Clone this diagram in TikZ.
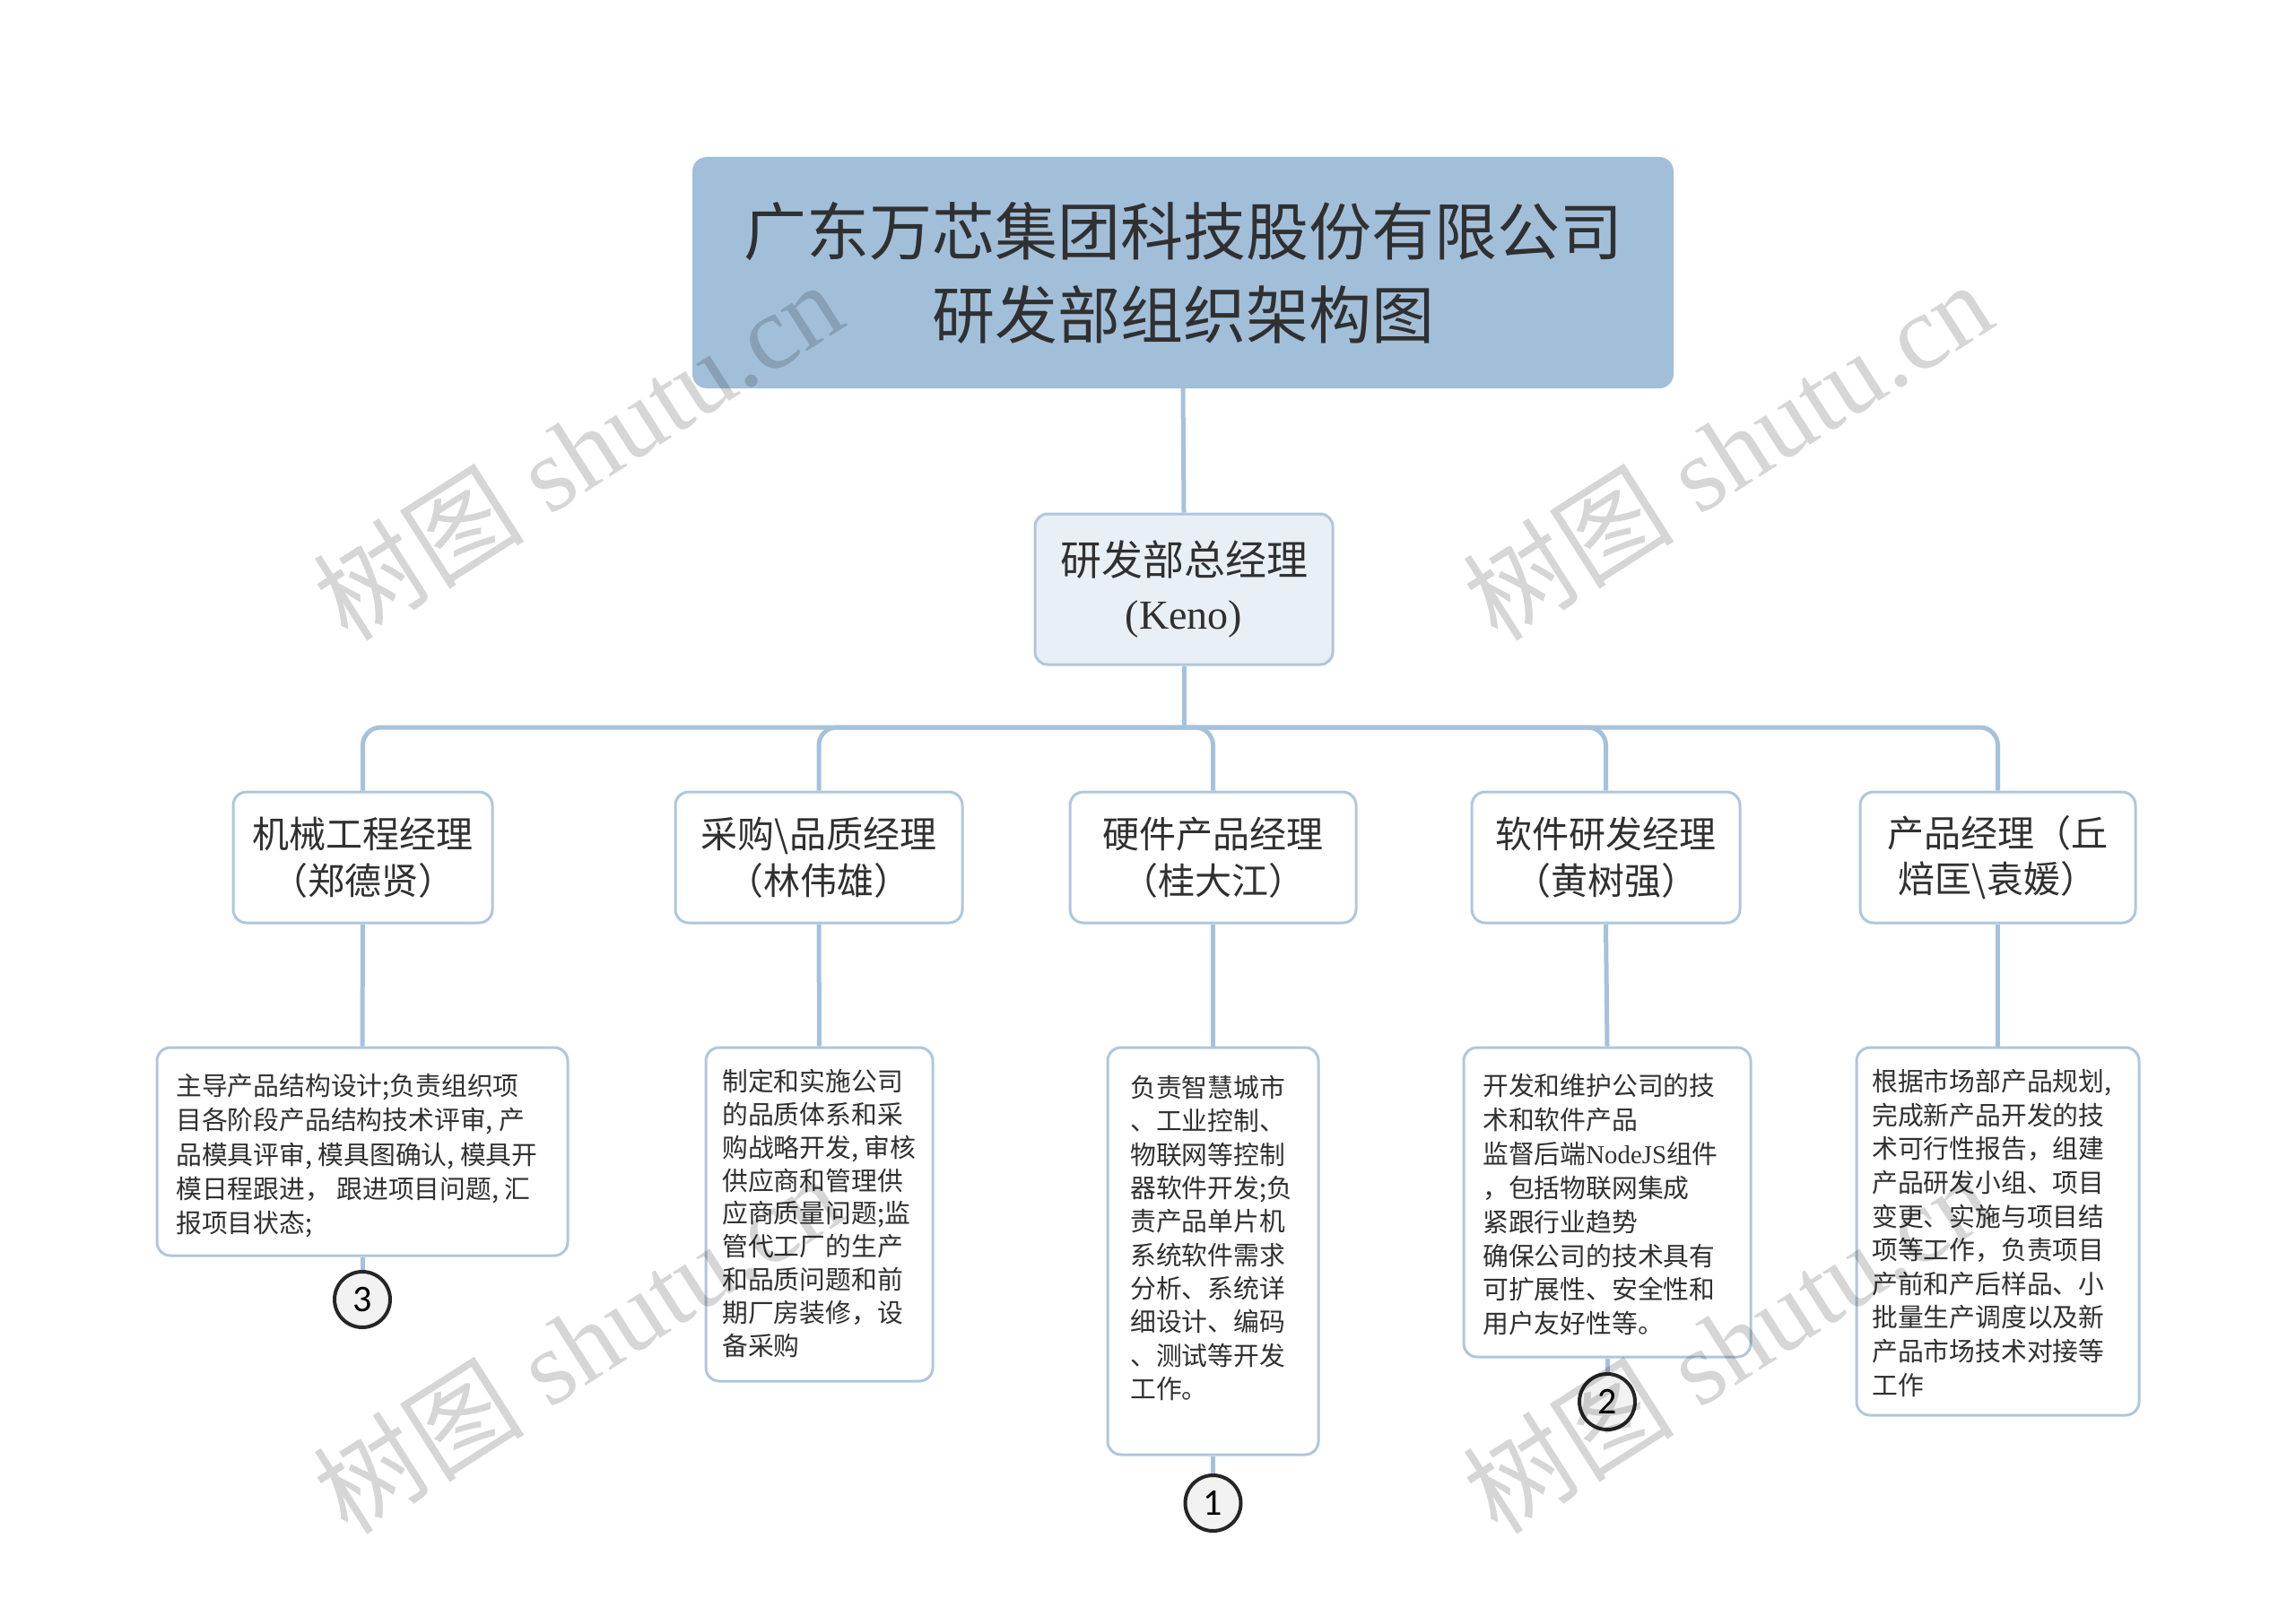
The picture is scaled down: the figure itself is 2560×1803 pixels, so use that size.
\documentclass[tikz,border=0pt]{standalone}
\usepackage{fontspec}
\setmainfont{Liberation Serif}
\newfontfamily\cjk{Noto Sans CJK SC}
\newfontfamily\numfont{Carlito}
\definecolor{lc}{HTML}{A6C1DB}
\definecolor{bc}{HTML}{AEC7DE}
\definecolor{tf}{HTML}{A2BFDA}
\definecolor{rf}{HTML}{E8EFF5}
\definecolor{tc}{HTML}{303030}
\definecolor{cf}{HTML}{F2F2F2}
\begin{document}
\begin{tikzpicture}[x=1pt,y=-1pt,
  conn/.style={draw=lc, line width=5pt},
  titlebox/.style={fill=tf, rounded corners=16pt, minimum width=1094pt, minimum height=258pt, inner sep=0pt, align=center, text=tc, font=\cjk\fontsize{70}{93}\selectfont},
  rootbox/.style={fill=rf, draw=bc, line width=3pt, rounded corners=14pt, minimum width=332pt, minimum height=168pt, inner sep=0pt, align=center, text=tc, font=\cjk\fontsize{46}{60}\selectfont},
  mgrbox/.style={fill=white, draw=bc, line width=3pt, rounded corners=15pt, minimum height=146pt, inner sep=0pt, align=center, text=tc, font=\cjk\fontsize{41}{51.5}\selectfont},
  descbox/.style={fill=white, draw=bc, line width=3pt, rounded corners=15pt, inner sep=0pt},
  desctext/.style={anchor=north west, inner sep=0pt, align=left, text=tc},
  numcirc/.style={circle, fill=cf, draw=black!85, line width=4pt, minimum size=62pt, inner sep=0pt, font=\numfont\fontsize{42}{42}\selectfont},
  wmark/.style={text=black, text opacity=0.16, inner sep=0pt, rotate=32.5, font=\fontsize{118}{118}\selectfont}
]
\useasboundingbox (0,0) rectangle (2560,1803);

% title and root
\node[titlebox] (t) at (1319,304) {广东万芯集团科技股份有限公司\\研发部组织架构图};
\node[rootbox] (r) at (1320,657) {研发部总经理\\{\rmfamily (Keno)}};

% managers
\node[mgrbox, minimum width=289pt] (m1) at (404.5,956) {机械工程经理\\（郑德贤）};
\node[mgrbox, minimum width=320pt] (m2) at (913,956) {采购\textbackslash 品质经理\\（林伟雄）};
\node[mgrbox, minimum width=319pt] (m3) at (1352.5,956) {硬件产品经理\\（桂大江）};
\node[mgrbox, minimum width=299pt] (m4) at (1790.5,956) {软件研发经理\\（黄树强）};
\node[mgrbox, minimum width=307pt] (m5) at (2227.5,956) {产品经理（丘\\焙匡\textbackslash 袁媛）};

% description boxes
\node[descbox, minimum width=458pt, minimum height=232pt] (d1) at (404,1284) {};
\node[descbox, minimum width=253pt, minimum height=372pt] (d2) at (913.5,1354) {};
\node[descbox, minimum width=235pt, minimum height=454pt] (d3) at (1352.5,1395) {};
\node[descbox, minimum width=320pt, minimum height=345pt] (d4) at (1792,1340.5) {};
\node[descbox, minimum width=315pt, minimum height=410pt] (d5) at (2227.5,1373) {};

\node[desctext, font=\cjk\fontsize{28.8}{38.3}\selectfont] (x1) at (196,1197) {主导产品结构设计;负责组织项\\目各阶段产品结构技术评审, 产\\品模具评审, 模具图确认, 模具开\\模日程跟进， 跟进项目问题, 汇\\报项目状态;};
\node[desctext, font=\cjk\fontsize{28.8}{36.8}\selectfont] (x2) at (805,1192) {制定和实施公司\\的品质体系和采\\购战略开发, 审核\\供应商和管理供\\应商质量问题;监\\管代工厂的生产\\和品质问题和前\\期厂房装修，设\\备采购};
\node[desctext, font=\cjk\fontsize{28.8}{37.3}\selectfont] (x3) at (1260,1199) {负责智慧城市\\、工业控制、\\物联网等控制\\器软件开发;负\\责产品单片机\\系统软件需求\\分析、系统详\\细设计、编码\\、测试等开发\\工作。};
\node[desctext, font=\cjk\fontsize{28.8}{37.9}\selectfont] (x4) at (1653,1197) {开发和维护公司的技\\术和软件产品\\监督后端{\rmfamily NodeJS}组件\\，包括物联网集成\\紧跟行业趋势\\确保公司的技术具有\\可扩展性、安全性和\\用户友好性等。};
\node[desctext, font=\cjk\fontsize{28.8}{37.6}\selectfont] (x5) at (2087,1192) {根据市场部产品规划,\\完成新产品开发的技\\术可行性报告，组建\\产品研发小组、项目\\变更、实施与项目结\\项等工作，负责项目\\产前和产后样品、小\\批量生产调度以及新\\产品市场技术对接等\\工作};

% numbered circles
\node[numcirc] (c3) at (404,1449) {3};
\node[numcirc] (c1) at (1352.5,1676) {1};
\node[numcirc] (c2) at (1792,1563) {2};

% connectors
\coordinate (bus) at (1320,811);
\draw[conn] (t.south) -- (r.north);
\draw[conn] (r.south) -- (bus);
\foreach \m in {m1,m2,m3,m4,m5} {
  \draw[conn, rounded corners=20pt] (bus) -| (\m.north);
}
\draw[conn] (m1.south) -- (d1.north);
\draw[conn] (m2.south) -- (d2.north);
\draw[conn] (m3.south) -- (d3.north);
\draw[conn] (m4.south) -- (d4.north);
\draw[conn] (m5.south) -- (d5.north);
\draw[conn] (d1.south) -- (c3.north);
\draw[conn] (d3.south) -- (c1.north);
\draw[conn] (d4.south) -- (c2.north);

% watermarks
\node[wmark] (w1) at (644,502) {{\cjk 树图} shutu.cn};
\node[wmark] (w2) at (1926,502) {{\cjk 树图} shutu.cn};
\node[wmark] (w3) at (644,1498) {{\cjk 树图} shutu.cn};
\node[wmark] (w4) at (1926,1498) {{\cjk 树图} shutu.cn};
\end{tikzpicture}
\end{document}
